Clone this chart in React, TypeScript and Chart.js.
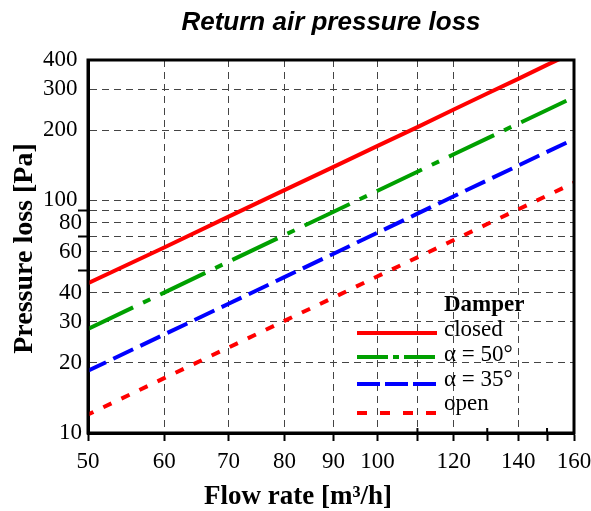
import React, { useEffect, useRef } from "react";
import { Chart, registerables } from "chart.js";

Chart.register(...registerables);

// ---- data ----
const flowRates = [50, 60, 70, 80, 90, 100, 110, 120, 130, 140, 150, 160];
const closedLoss = [44, 62.6, 85, 110.5, 139, 171, 206, 245, 287, 332, 381, 432];
const alpha50Loss = [28, 40.1, 54.4, 70.8, 89.2, 109.8, 132.5, 157.4, 184.3, 213.2, 244, 277];
const alpha35Loss = [18.5, 26.5, 35.9, 46.7, 58.9, 72.5, 87.5, 104, 121.7, 140.8, 161.2, 183];
const openLoss = [12, 17.2, 23.3, 30.3, 38.2, 47.1, 56.8, 67.4, 79, 91.3, 104.6, 118.8];

const seriesLabels = ["closed", "α = 50°", "α = 35°", "open"];
const legendTitle = "Damper";
const chartTitle = "Return air pressure loss";
const xTitle = "Flow rate [m³/h]";
const yTitle = "Pressure loss [Pa]";

const xTickValues = [50, 60, 70, 80, 90, 100, 110, 120, 130, 140, 150, 160];
const xTickLabels = [50, 60, 70, 80, 90, 100, 120, 140, 160];
const xGridValues = [60, 70, 80, 90, 100, 110, 120, 140];
const xMinorTicks = [110, 130, 150];
const yTickValues = [10, 20, 30, 40, 50, 60, 70, 80, 90, 100, 200, 300, 400];
const yTickLabels = [10, 20, 30, 40, 60, 80, 100, 200, 300, 400];
const yGridValues = [20, 30, 40, 50, 60, 70, 80, 90, 100, 200, 300];

// ---- styles ----
const seriesColors = ["#ff0000", "#00a000", "#0000ff", "#ff0000"];
const seriesDashes = [[], [50, 11, 8, 11], [22, 8], [9, 11]];
const seriesDashOffsets = [0, 0, 2, 3];
const legendDashes = [[], [31, 5, 6, 5], [23, 5], [10, 13]];
const GRID_COLOR = "#444";
const SERIF = '"Liberation Serif", "Times New Roman", serif';
const SANS = '"Liberation Sans", Arial, sans-serif';

const seriesValues = [closedLoss, alpha50Loss, alpha35Loss, openLoss];

const decorPlugin = {
  id: "decor",
  afterDraw(chart: any) {
    const { ctx, chartArea } = chart;
    const { left, right, top, bottom } = chartArea;
    const xs = chart.scales.x;
    ctx.save();
    // minor inner ticks
    ctx.strokeStyle = "#000";
    ctx.lineWidth = 2;
    xMinorTicks.forEach((v) => {
      const px = xs.getPixelForValue(v);
      ctx.beginPath();
      ctx.moveTo(px, bottom);
      ctx.lineTo(px, bottom - 5);
      ctx.stroke();
    });
    // frame
    ctx.lineWidth = 3;
    ctx.strokeStyle = "#000";
    ctx.strokeRect(left, top, right - left, bottom - top);

    // legend
    const lx0 = 357;
    const lx1 = 437;
    const tx = 444;
    const lineYs = [333, 357, 384, 413];
    const textYs = [336, 361, 386, 410];
    ctx.fillStyle = "#000";
    ctx.textAlign = "left";
    ctx.textBaseline = "alphabetic";
    ctx.font = `bold 23px ${SERIF}`;
    ctx.fillText(legendTitle, tx, 311);
    ctx.font = `23px ${SERIF}`;
    seriesLabels.forEach((lab, i) => {
      ctx.save();
      ctx.strokeStyle = seriesColors[i];
      ctx.lineWidth = 4;
      ctx.setLineDash(legendDashes[i]);
      ctx.beginPath();
      ctx.moveTo(lx0, lineYs[i]);
      ctx.lineTo(lx1, lineYs[i]);
      ctx.stroke();
      ctx.restore();
      ctx.fillText(lab, tx, textYs[i]);
    });

    // chart title (centred over the plot area)
    ctx.font = `bold italic 26px ${SANS}`;
    ctx.textAlign = "center";
    ctx.fillText(chartTitle, (left + right) / 2, 30);

    // x title
    ctx.font = `bold 27px ${SERIF}`;
    ctx.textAlign = "center";
    ctx.fillText(xTitle, 298, 504);

    // y title
    ctx.save();
    ctx.translate(32, 248.5);
    ctx.rotate(-Math.PI / 2);
    ctx.font = `bold 28px ${SERIF}`;
    ctx.textAlign = "center";
    ctx.fillText(yTitle, 0, 0);
    ctx.restore();

    ctx.restore();
  },
};

export default function App() {
  const canvasRef = useRef<HTMLCanvasElement | null>(null);

  useEffect(() => {
    const canvas = canvasRef.current;
    if (!canvas) return;
    const datasets = seriesLabels.map((label, i) => ({
      label,
      data: flowRates.map((x, j) => ({ x, y: seriesValues[i][j] })),
      borderColor: seriesColors[i],
      backgroundColor: seriesColors[i],
      borderWidth: 4,
      borderDash: seriesDashes[i],
      borderDashOffset: seriesDashOffsets[i],
      borderCapStyle: "butt",
      pointRadius: 0,
      tension: 0,
      fill: false,
      clip: 0,
    }));

    const chart = new Chart(canvas, {
      type: "line",
      data: { datasets } as any,
      plugins: [decorPlugin],
      options: {
        animation: false,
        responsive: false,
        devicePixelRatio: 1,
        layout: { padding: { top: 60, right: 17, bottom: 0, left: 0 } },
        plugins: {
          legend: { display: false },
          tooltip: { enabled: false },
          title: { display: false },
        },
        scales: {
          x: {
            type: "logarithmic",
            min: 50,
            max: 160,
            afterBuildTicks: (axis: any) => {
              axis.ticks = xTickValues.map((v) => ({ value: v }));
            },
            afterFit: (s: any) => {
              s.height = 78;
              s.paddingLeft = 0;
              s.paddingRight = 0;
            },
            ticks: {
              autoSkip: false,
              maxRotation: 0,
              minRotation: 0,
              padding: 7,
              color: "#000",
              font: { family: SERIF, size: 23 },
              callback: (v: any) => (xTickLabels.includes(Number(v)) ? String(v) : ""),
            },
            grid: {
              color: (c: any) => (c.tick && xGridValues.includes(c.tick.value) ? GRID_COLOR : "transparent"),
              lineWidth: 1,
              tickLength: 8,
              tickWidth: 2,
              tickColor: (c: any) =>
                c.tick && (xTickLabels.includes(c.tick.value) || xMinorTicks.includes(c.tick.value)) ? "#000" : "transparent",
            },
            border: { display: true, color: "#000", width: 3, dash: [7, 5] },
          },
          y: {
            type: "logarithmic",
            min: 10,
            max: 400,
            afterBuildTicks: (axis: any) => {
              axis.ticks = yTickValues.map((v) => ({ value: v }));
            },
            afterFit: (s: any) => {
              s.width = 88;
              s.paddingTop = 0;
              s.paddingBottom = 0;
            },
            ticks: {
              autoSkip: false,
              padding: -4,
              color: "#000",
              font: { family: SERIF, size: 23 },
              callback: (v: any) => {
                const n = Number(v);
                if (!yTickLabels.includes(n)) return "";
                return n >= 100 ? `${n}\u2009` : String(n);
              },
            },
            grid: {
              color: (c: any) => (c.tick && yGridValues.includes(c.tick.value) ? GRID_COLOR : "transparent"),
              lineWidth: 1,
              tickLength: 10,
              tickWidth: 2,
              tickColor: (c: any) => (c.tick && !yTickLabels.includes(c.tick.value) ? "#000" : "transparent"),
            },
            border: { display: true, color: "#000", width: 3, dash: [7, 5] },
          },
        },
      } as any,
    });
    return () => chart.destroy();
  }, []);

  return (
    <div style={{ position: "absolute", left: 0, top: 0, width: 591, height: 511, background: "#fff" }}>
      <canvas ref={canvasRef} width={591} height={511} style={{ width: 591, height: 511, display: "block" }} />
    </div>
  );
}
